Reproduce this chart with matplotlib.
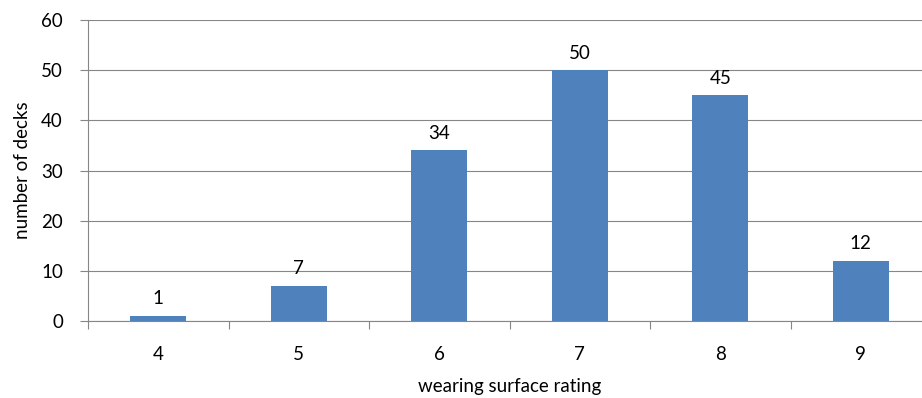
import numpy as np
import matplotlib
matplotlib.use("Agg")
import matplotlib.pyplot as plt

ratings = ["4", "5", "6", "7", "8", "9"]
decks = [1, 7, 34, 50, 45, 12]

plt.rcParams['font.family'] = ['Lato', 'DejaVu Sans']
plt.rcParams['font.size'] = 13.5

fig = plt.figure(figsize=(9.22, 3.98), dpi=100)
# plot area runs a little past the right edge of the figure
ax = fig.add_axes([88 / 922, 1 - 321 / 398, (931 - 88) / 922, (321 - 20) / 398])

x = np.arange(len(ratings))
grey = "#868686"
ax.bar(x, decks, width=0.4, color="#4F81BD", zorder=3)
for xi, v in zip(x, decks):
    ax.text(xi, v + 1.7, str(v), ha="center", va="bottom")

ax.set_xlim(-0.5, len(ratings) - 0.5)
ax.set_ylim(0, 60)
ax.set_yticks(np.arange(0, 61, 10))
ax.yaxis.grid(True, color=grey, linewidth=0.8, zorder=0)

# category labels centred, tick marks on the boundaries
ax.set_xticks(x)
ax.set_xticklabels(ratings)
ax.set_xticks(np.arange(-0.5, len(ratings)), minor=True)
ax.tick_params(axis="x", which="major", length=0, pad=18)
ax.tick_params(axis="x", which="minor", length=6, color=grey, width=0.8)
ax.tick_params(axis="y", length=6, color=grey, width=0.8, pad=12)

for s in ["top", "right"]:
    ax.spines[s].set_visible(False)
for s in ["left", "bottom"]:
    ax.spines[s].set_color(grey)
    ax.spines[s].set_linewidth(0.8)

ax.set_xlabel("wearing surface rating", labelpad=11)
ax.set_ylabel("number of decks", labelpad=7)

fig.savefig("out.png", dpi=100)
